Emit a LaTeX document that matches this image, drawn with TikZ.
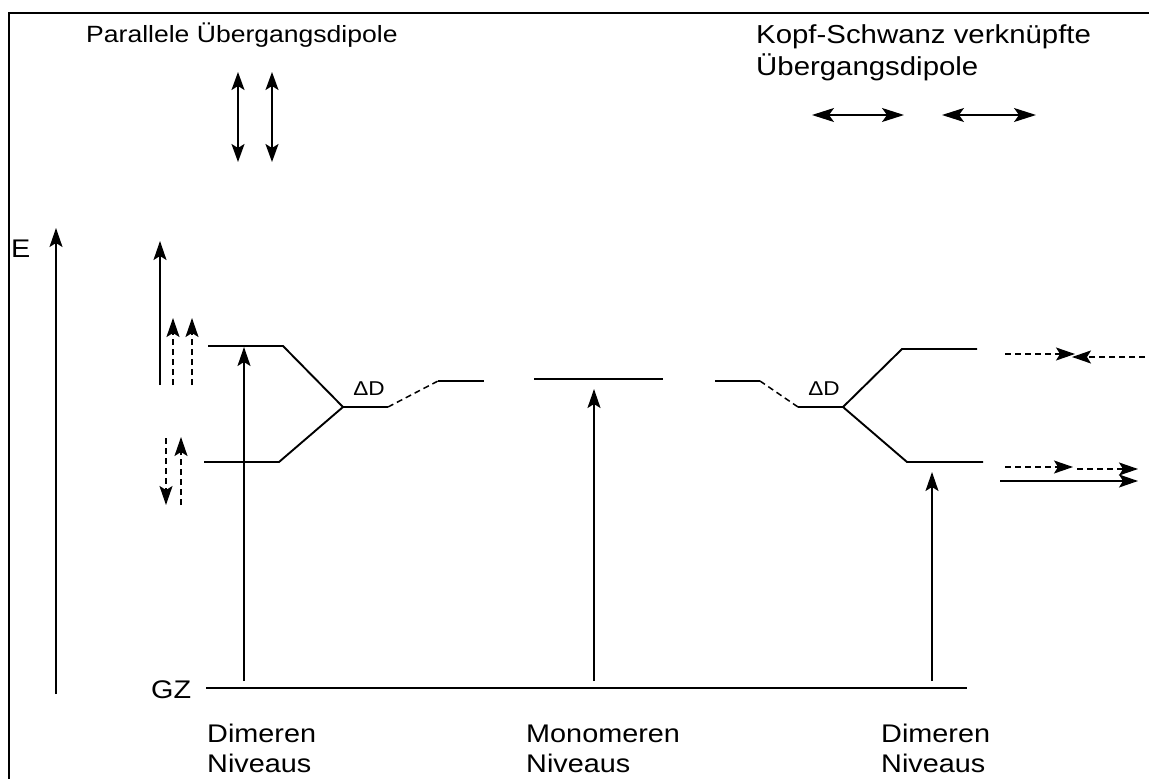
\documentclass[tikz,border=0pt]{standalone}
\usepackage{fontspec}
\setmainfont{Liberation Sans}[FakeStretch=1.13]
\usetikzlibrary{arrows.meta}
\tikzset{
  lvl/.style={line width=1.9pt},
  dsh/.style={line width=1.5pt, dash pattern=on 6pt off 4pt},
  arr/.style={line width=1.5pt, -{Stealth[length=19pt,width=13pt,inset=4pt]}},
  darr/.style={line width=1.5pt, {Stealth[length=18pt,width=13pt,inset=4pt]}-{Stealth[length=18pt,width=13pt,inset=4pt]}},
  harr/.style={line width=1.5pt, {Stealth[length=22pt,width=14pt,inset=5pt]}-{Stealth[length=22pt,width=14pt,inset=5pt]}},
  lbl/.style={inner sep=0pt, anchor=base west, font=\fontsize{25.5}{30}\selectfont},
  small/.style={inner sep=0pt, font=\fontsize{20}{22}\selectfont}
}
\begin{document}
\begin{tikzpicture}[x=1pt,y=-1pt]
\useasboundingbox (0,0) rectangle (1149,779);
% frame
\coordinate (fbl) at (9,779);
\coordinate (ftl) at (9,13);
\coordinate (ftr) at (1149,13);
\draw[line width=2pt] (fbl) -- (ftl) -- (ftr);

% titles
\node[lbl, font=\fontsize{23.5}{28}\selectfont] (t1) at (86,42) {Parallele Übergangsdipole};
\node[lbl, font=\fontsize{26}{30}\selectfont] (t2) at (756,43) {Kopf-Schwanz verknüpfte};
\node[lbl, font=\fontsize{26}{30}\selectfont] (t3) at (756,75) {Übergangsdipole};

% parallel dipoles
\coordinate (pa1) at (238,72); \coordinate (pb1) at (238,162);
\coordinate (pa2) at (272,72); \coordinate (pb2) at (272,162);
\draw[darr] (pa1) -- (pb1);
\draw[darr] (pa2) -- (pb2);

% head-tail dipoles
\coordinate (ha1) at (812,115); \coordinate (hb1) at (904,115);
\coordinate (ha2) at (942,115); \coordinate (hb2) at (1036,115);
\draw[harr] (ha1) -- (hb1);
\draw[harr] (ha2) -- (hb2);

% energy axis
\node[lbl] (E) at (11,257) {E};
\coordinate (e0) at (56,694); \coordinate (e1) at (56,228);
\draw[arr] (e0) -- (e1);

% small dipole arrows left
\coordinate (s0) at (160,385); \coordinate (s1) at (160,241);
\draw[arr] (s0) -- (s1);
\coordinate (d10) at (173,385); \coordinate (d11) at (173,318);
\coordinate (d20) at (192,385); \coordinate (d21) at (192,318);
\draw[arr,dsh] (d10) -- (d11);
\draw[arr,dsh] (d20) -- (d21);
\coordinate (d30) at (166,438); \coordinate (d31) at (166,505);
\coordinate (d40) at (181,505); \coordinate (d41) at (181,437);
\draw[arr,dsh] (d30) -- (d31);
\draw[arr,dsh] (d40) -- (d41);

% left dimer levels
\coordinate (lu0) at (208,346); \coordinate (lu1) at (283,346);
\coordinate (ll0) at (204,462); \coordinate (ll1) at (279,462);
\coordinate (lm0) at (343,407); \coordinate (lm1) at (388,407);
\coordinate (lr0) at (438,381); \coordinate (lr1) at (484,381);
\draw[lvl] (lu0) -- (lu1) -- (lm0) -- (ll1) -- (ll0);
\draw[lvl] (lm0) -- (lm1);
\draw[dsh] (lm1) -- (lr0);
\draw[lvl] (lr0) -- (lr1);
\node[small] (dl) at (369,389) {ΔD};

% monomer
\coordinate (m0) at (534,379); \coordinate (m1) at (663,379);
\draw[lvl] (m0) -- (m1);

% right dimer levels
\coordinate (rl0) at (715,381); \coordinate (rl1) at (760,381);
\coordinate (rm0) at (798,407); \coordinate (rm1) at (843,407);
\coordinate (ru0) at (902,349); \coordinate (ru1) at (977,349);
\coordinate (rd0) at (907,462); \coordinate (rd1) at (983,462);
\draw[lvl] (rl0) -- (rl1);
\draw[dsh] (rl1) -- (rm0);
\draw[lvl] (rm0) -- (rm1);
\draw[lvl] (ru1) -- (ru0) -- (rm1) -- (rd0) -- (rd1);
\node[small] (dr) at (824,389) {ΔD};

% ground state
\node[inner sep=0pt, anchor=base west, font=\fontsize{25.5}{30}\selectfont] (GZ) at (151,698) {GZ};
\coordinate (g0) at (206,688); \coordinate (g1) at (967,688);
\draw[lvl] (g0) -- (g1);

% transitions
\coordinate (v1a) at (244,681); \coordinate (v1b) at (244,347);
\coordinate (v2a) at (594,681); \coordinate (v2b) at (594,389);
\coordinate (v3a) at (932,681); \coordinate (v3b) at (932,472);
\draw[arr] (v1a) -- (v1b);
\draw[arr] (v2a) -- (v2b);
\draw[arr] (v3a) -- (v3b);

% right dipole arrows
\coordinate (q1a) at (1005,354); \coordinate (q1b) at (1075,354);
\coordinate (q2a) at (1145,357); \coordinate (q2b) at (1072,357);
\draw[arr,dsh] (q1a) -- (q1b);
\draw[arr,dsh] (q2a) -- (q2b);
\coordinate (q3a) at (1005,467); \coordinate (q3b) at (1073,467);
\coordinate (q4a) at (1077,469); \coordinate (q4b) at (1138,469);
\coordinate (q5a) at (1000,481); \coordinate (q5b) at (1138,481);
\draw[arr,dsh] (q3a) -- (q3b);
\draw[arr,dsh] (q4a) -- (q4b);
\draw[arr] (q5a) -- (q5b);

% bottom labels
\node[lbl] (b1) at (207,742) {Dimeren};
\node[lbl] (b2) at (207,772) {Niveaus};
\node[lbl] (b3) at (526,742) {Monomeren};
\node[lbl] (b4) at (526,772) {Niveaus};
\node[lbl] (b5) at (881,742) {Dimeren};
\node[lbl] (b6) at (881,772) {Niveaus};
\end{tikzpicture}
\end{document}
